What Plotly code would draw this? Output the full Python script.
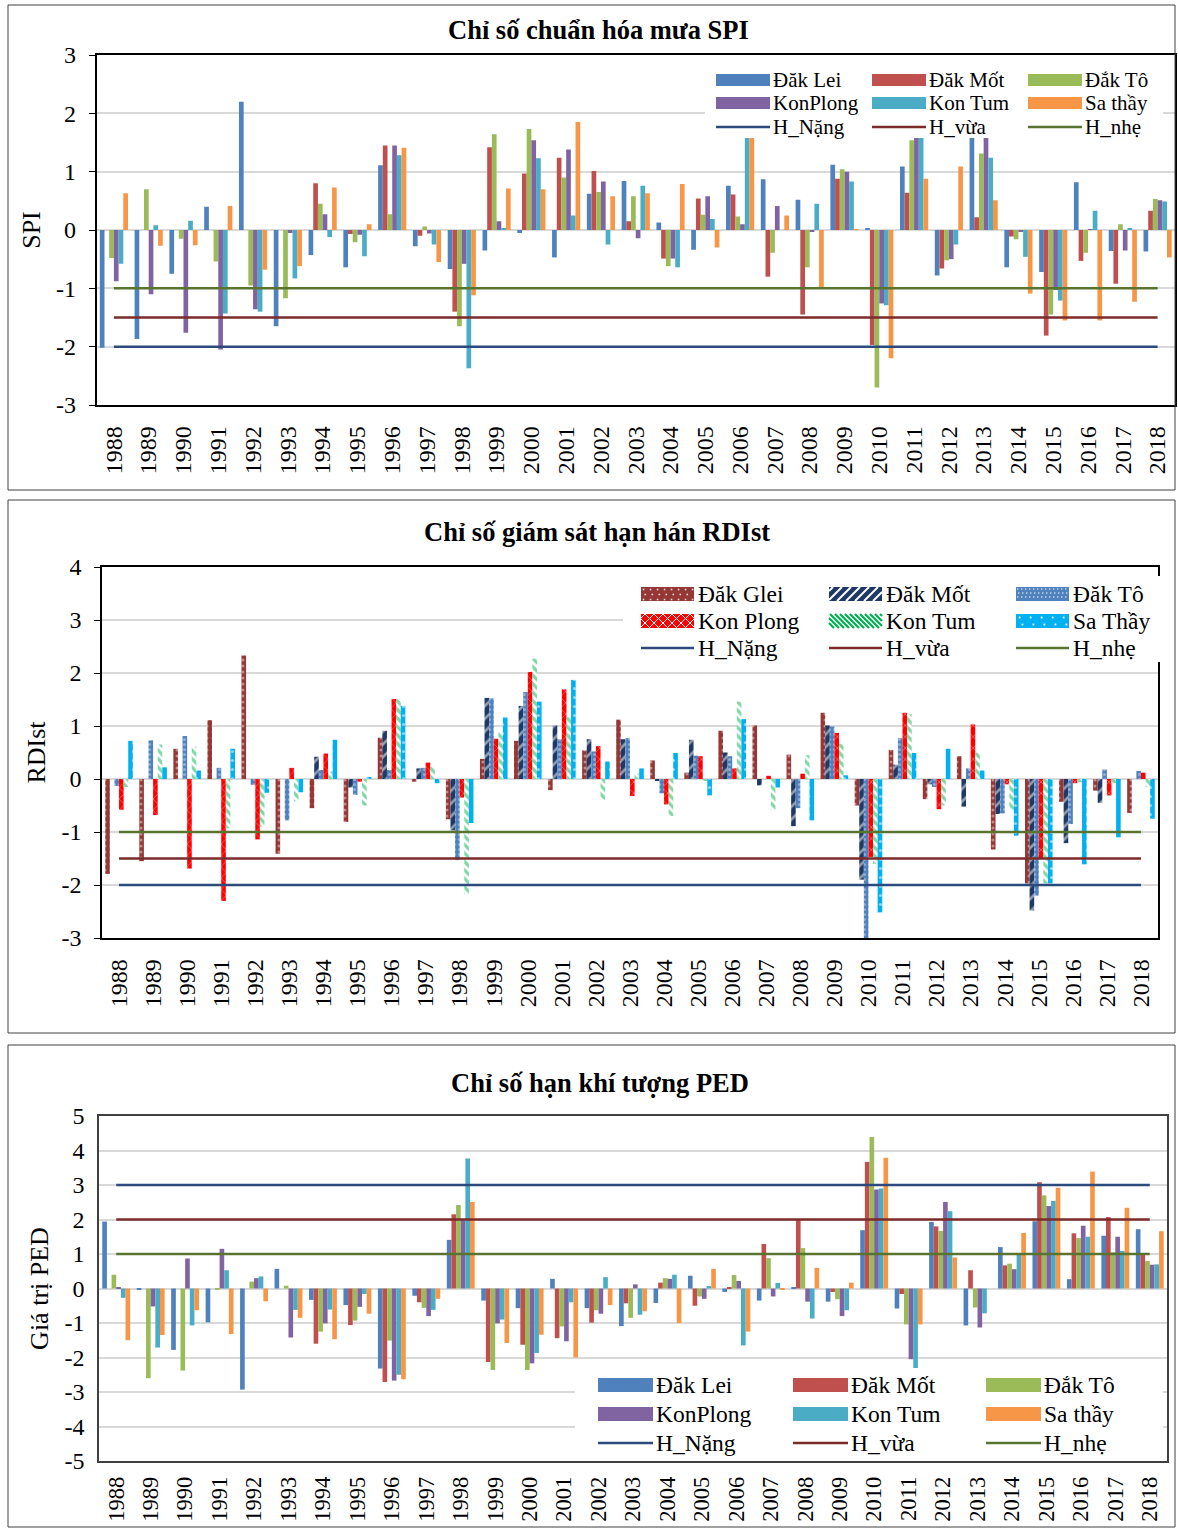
import plotly.graph_objects as go

# ---------------- DATA ----------------
years = ["1988", "1989", "1990", "1991", "1992", "1993", "1994", "1995", "1996", "1997",
         "1998", "1999", "2000", "2001", "2002", "2003", "2004", "2005", "2006", "2007",
         "2008", "2009", "2010", "2011", "2012", "2013", "2014", "2015", "2016", "2017", "2018"]

# Panel 1 - SPI
spi_dak_lei = [-2.02, -1.87, -0.75, 0.40, 2.20, -1.65, -0.43, -0.64, 1.11, -0.28, -0.67, -0.35, -0.05, -0.47, 0.62, 0.84,
               0.13, -0.34, 0.76, 0.87, 0.52, 1.12, 0.03, 1.09, -0.78, 1.65, -0.64, -0.72, 0.82, -0.36, -0.37]
spi_dak_mot = [None, None, None, None, None, None, 0.80, -0.07, 1.45, -0.10, -1.40, 1.42, 0.97, 1.24, 1.01, 0.15,
               -0.49, 0.54, 0.61, -0.80, -1.45, 0.88, -1.97, 0.64, -0.66, 0.22, -0.11, -1.81, -0.53, -0.92, 0.33]
spi_dak_to = [-0.48, 0.70, -0.15, -0.54, -0.95, -1.17, 0.45, -0.21, 0.27, 0.06, -1.65, 1.64, 1.73, 0.90, 0.65, 0.58,
              -0.62, 0.26, 0.23, -0.39, -0.64, 1.04, -2.70, 1.54, -0.52, 1.31, -0.16, -1.45, -0.39, 0.10, 0.53]
spi_konplong = [-0.88, -1.10, -1.76, -2.05, -1.36, -0.05, 0.27, -0.08, 1.45, -0.06, -0.58, 0.15, 1.54, 1.38, 0.83, -0.14,
                -0.49, 0.58, 0.10, 0.41, -0.03, 1.00, -1.26, 1.65, -0.50, 1.65, -0.03, -1.03, 0.01, -0.35, 0.51]
spi_kontum = [-0.58, 0.08, 0.16, -1.43, -1.40, -0.83, -0.12, -0.45, 1.28, -0.25, -2.37, 0.02, 1.23, 0.25, -0.25, 0.76,
              -0.64, 0.19, 1.65, None, 0.45, 0.83, -1.29, 1.65, -0.25, 1.24, -0.46, -1.21, 0.33, 0.02, 0.49]
spi_sathay = [0.63, -0.27, -0.26, 0.41, -0.68, -0.62, 0.73, 0.10, 1.41, -0.55, -1.12, 0.71, 0.70, 1.85, 0.58, 0.63,
              0.79, -0.30, 1.65, 0.25, -1.00, 0.01, -2.20, 0.88, 1.09, 0.51, -1.09, -1.55, -1.55, -1.23, -0.47]
spi_levels = [-2.0, -1.5, -1.0]          # H_Nặng, H_vừa, H_nhẹ

# Panel 2 - RDIst
rdi_dak_glei = [-1.79, -1.55, 0.57, 1.11, 2.33, -1.41, -0.55, -0.81, 0.78, -0.05, -0.76, 0.38, 0.72, -0.21, 0.54, 1.12,
                0.35, 0.12, 0.91, 1.01, 0.46, 1.25, -0.50, 0.55, -0.38, 0.43, -1.33, -1.97, -0.43, -0.22, -0.64]
rdi_dak_mot = [None, None, None, None, None, None, 0.42, -0.16, 0.91, 0.20, -0.97, 1.53, 1.38, 1.01, 0.75, 0.75,
               -0.02, 0.74, 0.50, -0.12, -0.89, 1.01, -1.90, 0.27, -0.10, -0.52, -0.66, -2.48, -1.21, -0.45, None]
rdi_dak_to = [-0.13, 0.73, 0.81, 0.21, -0.11, -0.78, 0.17, -0.30, 0.17, 0.21, -1.53, 1.52, 1.64, 0.75, 0.52, 0.77,
              -0.27, 0.44, 0.43, None, -0.55, 0.99, -3.00, 0.77, -0.15, 0.20, -0.65, -2.20, -0.85, 0.18, 0.15]
rdi_kon_plong = [-0.58, -0.68, -1.69, -2.30, -1.14, 0.21, 0.48, -0.05, 1.51, 0.31, -0.35, 0.76, 2.02, 1.69, 0.62, -0.32,
                 -0.48, 0.43, 0.20, 0.06, 0.10, 0.87, -1.47, 1.25, -0.57, 1.03, -0.10, -1.50, -0.08, -0.31, 0.12]
rdi_kon_tum = [-0.15, 0.65, 0.61, -0.93, -0.90, -0.42, 0.14, -0.50, 1.51, 0.25, -2.17, 0.88, 2.27, 1.17, -0.39, 0.10,
               -0.70, -0.03, 1.46, -0.58, 0.45, 0.66, -1.60, 1.22, -0.50, 0.50, -0.58, -1.97, -0.06, -0.08, -0.15]
rdi_sa_thay = [0.72, 0.22, 0.16, 0.57, -0.26, -0.25, 0.74, 0.04, 1.38, -0.08, -0.83, 1.16, 1.46, 1.87, 0.33, 0.20,
               0.49, -0.31, 1.13, -0.16, -0.78, 0.07, -2.52, 0.49, 0.57, 0.16, -1.07, -1.97, -1.61, -1.10, -0.75]
rdi_levels = [-2.0, -1.5, -1.0]

# Panel 3 - PED
ped_dak_lei = [1.94, -0.02, -1.78, -0.98, -2.93, 0.57, -0.33, -0.48, -2.32, -0.21, 1.41, -0.35, -0.57, 0.28, -0.57, -1.09,
               -0.42, 0.37, -0.10, -0.35, 0.02, -0.38, 1.69, -0.58, 1.93, -1.07, 1.20, 1.95, 0.27, 1.53, 1.72]
ped_dak_mot = [None, None, None, None, None, None, -1.60, -1.06, -2.71, -0.40, 2.15, -2.13, -1.63, -1.44, -0.99, -0.43,
               0.17, -0.50, 0.02, 1.29, 2.00, -0.10, 3.67, -0.16, 1.80, 0.53, 0.67, 3.08, 1.60, 2.07, 0.98]
ped_dak_to = [0.40, -2.60, -2.38, -0.04, 0.20, 0.08, -1.25, -0.93, -1.51, -0.56, 2.42, -2.36, -2.36, -1.10, -0.63, -0.85,
              0.30, -0.23, 0.39, 0.88, 1.17, -0.31, 4.39, -1.04, 1.67, -0.55, 0.72, 2.70, 1.46, 1.05, 0.80]
ped_konplong = [0.02, -0.52, 0.87, 1.15, 0.30, -1.42, -1.01, -0.53, -2.67, -0.80, 1.98, -1.01, -2.17, -1.53, -0.73, 0.12,
                0.28, -0.30, 0.22, -0.23, -0.38, -0.80, 2.87, -2.05, 2.51, -1.13, 0.56, 2.39, 1.82, 1.50, 0.69]
ped_kontum = [-0.27, -1.71, -1.07, 0.53, 0.35, -0.62, -0.61, -0.16, -2.50, -0.62, 3.77, -0.90, -1.87, -0.40, 0.33, -0.76,
              0.40, 0.07, -1.65, 0.16, -0.87, -0.63, 2.90, -2.32, 2.24, -0.72, 1.00, 2.54, 1.50, 1.09, 0.70]
ped_sathay = [-1.50, -1.35, -0.63, -1.32, -0.37, -0.85, -1.47, -0.73, -2.63, -0.30, 2.51, -1.58, -1.34, -2.00, -0.48, -0.66,
              -1.00, 0.57, -1.25, -0.04, 0.60, 0.17, 3.79, -1.04, 0.90, None, 1.61, 2.92, 3.39, 2.34, 1.66]
ped_levels = [3.0, 2.0, 1.0]

level_names = ["H_Nặng", "H_vừa", "H_nhẹ"]

# ---------------- STYLE ----------------
W, H = 1178, 1528
FONT = "Liberation Serif, Times New Roman, serif"
C_BLUE, C_RED, C_GREEN, C_PURPLE, C_CYAN, C_ORANGE = "#4F81BD", "#C0504D", "#9BBB59", "#8064A2", "#4BACC6", "#F79646"
LEVEL_COLORS = ["#2C4A7C", "#7B2C2A", "#5A7430"]
GRID = "#D9D9D9"

P2_STYLES = {
    "Đăk Glei": dict(color="#953735", pattern=dict(shape=".", fgcolor="#F2DCDB", bgcolor="#953735", size=6, solidity=0.2, fillmode="overlay")),
    "Đăk Mốt": dict(color="#1F3864", pattern=dict(shape="/", fgcolor="#FFFFFF", bgcolor="#1F3864", size=9, solidity=0.3, fillmode="overlay")),
    "Đăk Tô": dict(color="#4F81BD", pattern=dict(shape=".", fgcolor="#C6D9F1", bgcolor="#4F81BD", size=5, solidity=0.3, fillmode="overlay")),
    "Kon Plong": dict(color="#FF0000", pattern=dict(shape="x", fgcolor="#FFFFFF", bgcolor="#FF0000", size=8, solidity=0.15, fillmode="overlay")),
    "Kon Tum": dict(color="#00B050", pattern=dict(shape="\\", fgcolor="#00B050", bgcolor="#FFFFFF", size=6, solidity=0.55, fillmode="overlay")),
    "Sa Thầy": dict(color="#00B0F0", pattern=dict(shape=".", fgcolor="#FFFFFF", bgcolor="#00B0F0", size=9, solidity=0.1, fillmode="overlay")),
}


def px_x(x):
    return x / W


def px_y(y):
    return 1 - y / H


fig = go.Figure()


def add_panel(ax, series, levels):
    xa = "x" if ax == 1 else f"x{ax}"
    ya = "y" if ax == 1 else f"y{ax}"
    for name, vals, marker in series:
        fig.add_trace(go.Bar(x=years, y=vals, name=name, marker=dict(marker, line=dict(width=0)),
                             xaxis=xa, yaxis=ya, showlegend=False))
    for j, v in enumerate(levels):
        fig.add_trace(go.Scatter(x=years, y=[v] * len(years), mode="lines", name=level_names[j],
                                 line=dict(color=LEVEL_COLORS[j], width=2.5),
                                 xaxis=xa, yaxis=ya, showlegend=False))


p1_series = [("Đăk Lei", spi_dak_lei, dict(color=C_BLUE)),
             ("Đăk Mốt", spi_dak_mot, dict(color=C_RED)),
             ("Đắk Tô", spi_dak_to, dict(color=C_GREEN)),
             ("KonPlong", spi_konplong, dict(color=C_PURPLE)),
             ("Kon Tum", spi_kontum, dict(color=C_CYAN)),
             ("Sa thầy", spi_sathay, dict(color=C_ORANGE))]
p2_series = [("Đăk Glei", rdi_dak_glei, P2_STYLES["Đăk Glei"]),
             ("Đăk Mốt", rdi_dak_mot, P2_STYLES["Đăk Mốt"]),
             ("Đăk Tô", rdi_dak_to, P2_STYLES["Đăk Tô"]),
             ("Kon Plong", rdi_kon_plong, P2_STYLES["Kon Plong"]),
             ("Kon Tum", rdi_kon_tum, P2_STYLES["Kon Tum"]),
             ("Sa Thầy", rdi_sa_thay, P2_STYLES["Sa Thầy"])]
p3_series = [("Đăk Lei", ped_dak_lei, dict(color=C_BLUE)),
             ("Đăk Mốt", ped_dak_mot, dict(color=C_RED)),
             ("Đắk Tô", ped_dak_to, dict(color=C_GREEN)),
             ("KonPlong", ped_konplong, dict(color=C_PURPLE)),
             ("Kon Tum", ped_kontum, dict(color=C_CYAN)),
             ("Sa thầy", ped_sathay, dict(color=C_ORANGE))]

add_panel(1, p1_series, spi_levels)
add_panel(2, p2_series, rdi_levels)
add_panel(3, p3_series, ped_levels)


def xaxis_cfg(left, right, anchor, linecolor, fsize=24, standoff=10):
    return dict(domain=[px_x(left), px_x(right)], anchor=anchor, type="category",
                categoryorder="array", categoryarray=years,
                tickmode="array", tickvals=years, ticktext=years,
                tickangle=-90, tickfont=dict(family=FONT, size=fsize, color="black"),
                ticklabelstandoff=standoff, showgrid=False, showline=True, mirror=True,
                linecolor=linecolor, linewidth=1.5, ticks="", fixedrange=True, automargin=False)


def yaxis_cfg(top, bottom, anchor, lo, hi, title, linecolor, ticks):
    vals = list(range(lo, hi + 1))
    return dict(domain=[px_y(bottom), px_y(top)], anchor=anchor, range=[lo, hi],
                tickmode="array", tickvals=vals, ticktext=[str(v) for v in vals],
                tickfont=dict(family=FONT, size=24, color="black"),
                showgrid=True, gridcolor=GRID, gridwidth=1.5, zeroline=False,
                showline=True, mirror=True, linecolor=linecolor, linewidth=1.5,
                ticks=ticks, ticklen=6, tickcolor=linecolor, ticklabelstandoff=8,
                title=dict(text=title, font=dict(family=FONT, size=26, color="black"), standoff=8),
                fixedrange=True, automargin=False)


fig.update_layout(
    width=W, height=H, margin=dict(l=0, r=0, t=0, b=0, autoexpand=False),
    paper_bgcolor="white", plot_bgcolor="white",
    barmode="group", bargap=0.19, bargroupgap=0.0,
    font=dict(family=FONT, color="black"), showlegend=False,
    xaxis=xaxis_cfg(96.5, 1175, "y", "black"),
    yaxis=yaxis_cfg(55, 405, "x", -3, 3, "SPI", "black", "outside"),
    xaxis2=xaxis_cfg(102, 1158, "y2", "black"),
    yaxis2=yaxis_cfg(567, 938, "x2", -3, 4, "RDIst", "black", "outside"),
    xaxis3=xaxis_cfg(99, 1167, "y3", "#404040", fsize=22.5, standoff=5),
    yaxis3=yaxis_cfg(1116, 1461, "x3", -5, 5, "Giá trị PED", "#404040", ""),
)

shapes = []
annotations = []


def rect(x0, y0, x1, y1, fill, line_color=None, lw=0):
    shapes.append(dict(type="rect", xref="paper", yref="paper", layer="above",
                       x0=px_x(x0), x1=px_x(x1), y0=px_y(y1), y1=px_y(y0),
                       fillcolor=fill, line=dict(color=line_color or fill, width=lw)))


def seg(x0, y0, x1, y1, color, width):
    shapes.append(dict(type="line", xref="paper", yref="paper", layer="above",
                       x0=px_x(x0), x1=px_x(x1), y0=px_y(y0), y1=px_y(y1),
                       line=dict(color=color, width=width)))


def hatch(x0, y0, x1, y1, color, width, step, direction):
    h = y1 - y0
    c = x0 - h
    while c < x1 + h:
        if direction == "/":
            t0, t1 = max(0, c - x1), min(h, c - x0)
            if t1 > t0:
                seg(c - t0, y0 + t0, c - t1, y0 + t1, color, width)
        else:
            t0, t1 = max(0, x0 - c), min(h, x1 - c)
            if t1 > t0:
                seg(c + t0, y0 + t0, c + t1, y0 + t1, color, width)
        c += step


def dots(x0, y0, x1, y1, color, sx, sy, size):
    yy = y0 + sy / 2
    row = 0
    while yy < y1:
        xx = x0 + (sx / 2 if row % 2 else sx / 4)
        while xx < x1 - size:
            rect(xx, yy - size / 2, xx + size, yy + size / 2, color)
            xx += sx
        yy += sy
        row += 1


def legend_block(box, cols_x, rows_y, entries, fsize, patch_w, patch_h, text_dx):
    rect(*box, "white")
    for k, (label, kind, style) in enumerate(entries):
        cx = cols_x[k % 3]
        ry = rows_y[k // 3]
        x0, x1 = cx, cx + patch_w
        if kind == "line":
            seg(x0, ry, x1, ry, style, 2.5)
        else:
            y0, y1 = ry - patch_h / 2, ry + patch_h / 2
            style(x0, y0, x1, y1)
        annotations.append(dict(text=label, x=px_x(x1 + text_dx), y=px_y(ry), xref="paper", yref="paper",
                                showarrow=False, xanchor="left", yanchor="middle",
                                font=dict(family=FONT, size=fsize, color="black")))


def solid(color):
    return lambda x0, y0, x1, y1: rect(x0, y0, x1, y1, color)


def p_glei(x0, y0, x1, y1):
    rect(x0, y0, x1, y1, "#953735")
    dots(x0, y0, x1, y1, "#F2DCDB", 7, 5, 1.6)


def p_mot(x0, y0, x1, y1):
    rect(x0, y0, x1, y1, "#1F3864")
    hatch(x0, y0, x1, y1, "white", 2, 9, "/")


def p_to(x0, y0, x1, y1):
    rect(x0, y0, x1, y1, "#4F81BD")
    dots(x0, y0, x1, y1, "#C6D9F1", 4, 4, 1.4)


def p_kp(x0, y0, x1, y1):
    rect(x0, y0, x1, y1, "#FF0000")
    hatch(x0, y0, x1, y1, "white", 1, 9, "/")
    hatch(x0, y0, x1, y1, "white", 1, 9, "\\")


def p_kt(x0, y0, x1, y1):
    rect(x0, y0, x1, y1, "white")
    hatch(x0, y0, x1, y1, "#00B050", 2.2, 5, "\\")


def p_st(x0, y0, x1, y1):
    rect(x0, y0, x1, y1, "#00B0F0")
    dots(x0, y0, x1, y1, "white", 11, 7, 1.8)


std_entries = [("Đăk Lei", "bar", solid(C_BLUE)), ("Đăk Mốt", "bar", solid(C_RED)), ("Đắk Tô", "bar", solid(C_GREEN)),
               ("KonPlong", "bar", solid(C_PURPLE)), ("Kon Tum", "bar", solid(C_CYAN)), ("Sa thầy", "bar", solid(C_ORANGE)),
               ("H_Nặng", "line", LEVEL_COLORS[0]), ("H_vừa", "line", LEVEL_COLORS[1]), ("H_nhẹ", "line", LEVEL_COLORS[2])]
p2_entries = [("Đăk Glei", "bar", p_glei), ("Đăk Mốt", "bar", p_mot), ("Đăk Tô", "bar", p_to),
              ("Kon Plong", "bar", p_kp), ("Kon Tum", "bar", p_kt), ("Sa Thầy", "bar", p_st),
              ("H_Nặng", "line", LEVEL_COLORS[0]), ("H_vừa", "line", LEVEL_COLORS[1]), ("H_nhẹ", "line", LEVEL_COLORS[2])]

legend_block((705, 62, 1163, 138), [716, 872, 1028], [80, 103, 127], std_entries, 21, 54, 12, 1)
legend_block((623, 576, 1162, 662), [641, 829, 1016], [594, 621, 648], p2_entries, 23.5, 53, 14, 2)
legend_block((575, 1368, 1163, 1459), [598, 793, 986], [1385, 1414, 1443], std_entries, 23.5, 55, 14, 1)

titles = [("Chỉ số chuẩn hóa mưa SPI", 598, 30),
          ("Chỉ số giám sát hạn hán RDIst", 597, 532),
          ("Chỉ số hạn khí tượng PED", 600, 1083)]
for text, xp, yp in titles:
    annotations.append(dict(text=f"<b>{text}</b>", x=px_x(xp), y=px_y(yp), xref="paper", yref="paper",
                            showarrow=False, xanchor="center", yanchor="middle",
                            font=dict(family=FONT, size=26.5, color="black")))

for top, bottom in [(5, 490), (500, 1033), (1045, 1527)]:
    shapes.append(dict(type="rect", xref="paper", yref="paper", layer="above",
                       x0=px_x(8), x1=px_x(1175), y0=px_y(bottom), y1=px_y(top),
                       line=dict(color="#404040", width=1)))

fig.update_layout(shapes=shapes, annotations=annotations)
fig.write_html("out.html")
